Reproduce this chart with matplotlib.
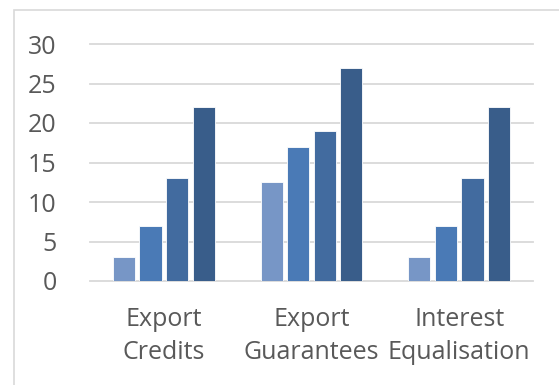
import matplotlib.pyplot as plt
import matplotlib.patches as patches
import numpy as np

# data
categories = ["Export\nCredits", "Export\nGuarantees", "Interest\nEqualisation"]
series_1 = [3, 12.5, 3]
series_2 = [7, 17, 7]
series_3 = [13, 19, 13]
series_4 = [22, 27, 22]
y_ticks = [0, 5, 10, 15, 20, 25, 30]

colors = ["#7796C6", "#4A7AB6", "#426B9F", "#395D8A"]
text_col = "#595959"
grid_col = "#D9D9D9"

plt.rcParams["font.family"] = ["Open Sans", "DejaVu Sans"]

fig = plt.figure(figsize=(5.59, 3.85), dpi=100)
# light chart-area border, runs off right and bottom edges
fig.patches.append(patches.Rectangle((14 / 559, -0.1), 1.2, 1 - 10 / 385 + 0.1,
                                     transform=fig.transFigure, fill=False,
                                     edgecolor=grid_col, linewidth=1.2))

ax = fig.add_axes([90 / 559, 1 - 281 / 385, 443 / 559, 237 / 385])

x = np.arange(len(categories))
step = 0.18
width = 0.15
for i, vals in enumerate([series_1, series_2, series_3, series_4]):
    ax.bar(x + (i - 1.5) * step, vals, width, color=colors[i],
           edgecolor="white", linewidth=0.6, zorder=3)

ax.set_xlim(-0.5, 2.5)
ax.set_ylim(0, 30)
ax.set_yticks(y_ticks)
ax.set_xticks(x)
ax.set_xticklabels(categories, fontsize=18, color=text_col, linespacing=1.42)
ax.tick_params(axis="y", labelsize=18, labelcolor=text_col, length=0, pad=24)
ax.tick_params(axis="x", length=0, pad=19)
ax.grid(axis="y", color=grid_col, linewidth=1.3, zorder=0, clip_on=False)
for s in ax.spines.values():
    s.set_visible(False)

fig.savefig("out.png", dpi=100)
